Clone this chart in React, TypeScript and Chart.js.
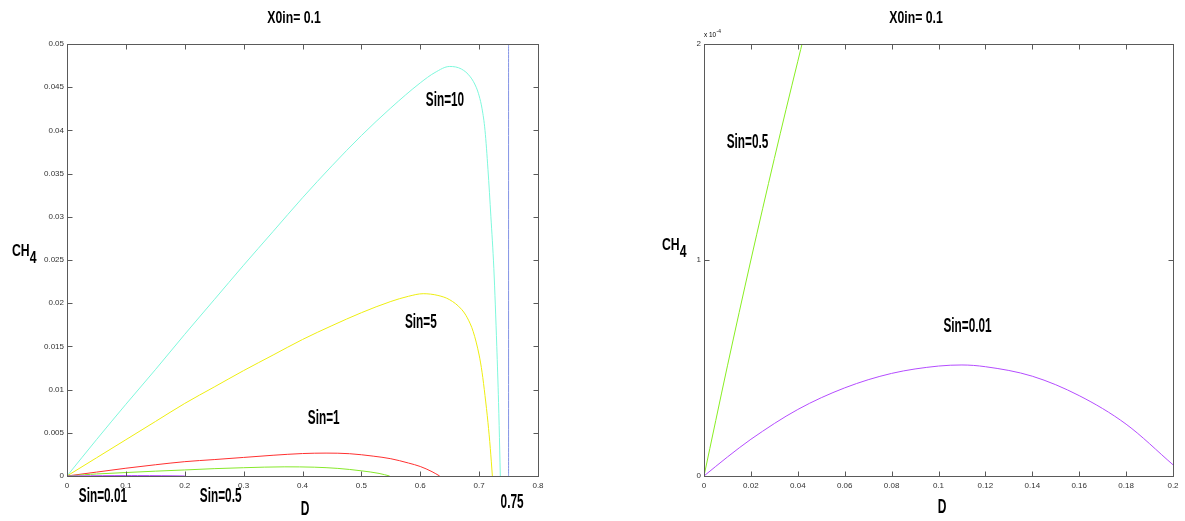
import React, { useEffect, useRef } from "react";
import { Chart, registerables } from "chart.js";

Chart.register(...registerables);

// ---------- data ----------
const titleText = "X0in= 0.1";
const xAxisLabel = "D";
const yAxisMain = "CH";
const yAxisSub = "4";

const leftXTicks = [0, 0.1, 0.2, 0.3, 0.4, 0.5, 0.6, 0.7, 0.8];
const leftYTicks = [0, 0.005, 0.01, 0.015, 0.02, 0.025, 0.03, 0.035, 0.04, 0.045, 0.05];
const rightXTicks = [0, 0.02, 0.04, 0.06, 0.08, 0.1, 0.12, 0.14, 0.16, 0.18, 0.2];
const rightYTicks = [0, 0.0001, 0.0002];
const rightYTickLabels = ["0", "1", "2"];

const sin10D = [0, 0.05, 0.1, 0.15, 0.2, 0.25, 0.3, 0.35, 0.4, 0.45, 0.5, 0.55, 0.6, 0.625, 0.65, 0.67, 0.685, 0.695, 0.7, 0.705, 0.71, 0.715, 0.72, 0.725, 0.73, 0.733, 0.735, 0.736];
const sin10CH4 = [0, 0.0042, 0.0083, 0.0123, 0.0164, 0.0204, 0.0244, 0.0283, 0.0322, 0.0359, 0.0394, 0.0426, 0.0455, 0.0467, 0.0474, 0.0471, 0.0462, 0.0450, 0.044, 0.0425, 0.04, 0.0355, 0.03, 0.024, 0.015, 0.0085, 0.003, 0];

const sin5D = [0, 0.05, 0.1, 0.15, 0.2, 0.25, 0.3, 0.35, 0.4, 0.45, 0.5, 0.55, 0.58, 0.605, 0.63, 0.65, 0.67, 0.68, 0.69, 0.7, 0.705, 0.71, 0.715, 0.719, 0.7225];
const sin5CH4 = [0, 0.0021, 0.0042, 0.0063, 0.0084, 0.0103, 0.0122, 0.014, 0.0158, 0.0174, 0.0189, 0.0202, 0.0208, 0.0211, 0.0209, 0.0204, 0.0193, 0.0183, 0.0167, 0.014, 0.012, 0.0093, 0.0062, 0.0032, 0];

const sin1D = [0, 0.05, 0.1, 0.15, 0.2, 0.25, 0.3, 0.35, 0.4, 0.44, 0.48, 0.52, 0.55, 0.58, 0.6, 0.62, 0.633];
const sin1CH4 = [0, 0.00045, 0.0009, 0.0013, 0.00166, 0.0019, 0.00215, 0.0024, 0.0026, 0.00265, 0.00258, 0.0023, 0.002, 0.0015, 0.0011, 0.0005, 0];

const sin05D = [0, 0.01, 0.02, 0.03, 0.04, 0.05, 0.1, 0.15, 0.2, 0.25, 0.3, 0.37, 0.42, 0.46, 0.5, 0.53, 0.548];
const sin05CH4 = [0, 0.000051, 0.0001, 0.000147, 0.000192, 0.000235, 0.0004, 0.00056, 0.0007, 0.00085, 0.00096, 0.00106, 0.00102, 0.00088, 0.0006, 0.0003, 0];

const sin001D = [0, 0.01, 0.02, 0.04, 0.06, 0.08, 0.1, 0.11, 0.12, 0.14, 0.16, 0.18, 0.2];
const sin001CH4 = [0, 0.0000088, 0.000017, 0.0000308, 0.0000408, 0.0000475, 0.0000509, 0.0000514, 0.0000506, 0.0000462, 0.0000372, 0.000024, 0.0000052];

const markerD = [0.75, 0.75];
const markerCH4 = [0, 0.05];

// annotation labels (data coordinates)
const leftNotes = [
  { text: "Sin=10", d: 0.642, v: 0.0435 },
  { text: "Sin=5", d: 0.601, v: 0.0178 },
  { text: "Sin=1", d: 0.436, v: 0.0066 },
  { text: "Sin=0.01", d: 0.061, v: -0.0024 },
  { text: "Sin=0.5", d: 0.261, v: -0.0024 },
  { text: "0.75", d: 0.756, v: -0.0031 },
];
const rightNotes = [
  { text: "Sin=0.5", d: 0.01855, v: 0.0001542 },
  { text: "Sin=0.01", d: 0.1124, v: 0.0000694 },
];

// ---------- helpers ----------
const FONT = '"Liberation Sans", Arial, sans-serif';

function pts(xs: number[], ys: number[]) {
  return xs.map((x, i) => ({ x, y: ys[i] }));
}

function fmt(v: number) {
  return String(parseFloat(Number(v).toFixed(6)));
}

function drawTxt(
  ctx: CanvasRenderingContext2D,
  text: string,
  x: number,
  y: number,
  size: number,
  sx: number,
  align: CanvasTextAlign = "center",
  bold = true
) {
  ctx.save();
  ctx.font = `${bold ? "bold " : ""}${size}px ${FONT}`;
  ctx.fillStyle = "#000";
  ctx.textBaseline = "middle";
  ctx.textAlign = align;
  ctx.translate(x, y);
  ctx.scale(sx, 1);
  ctx.fillText(text, 0, 0);
  const w = ctx.measureText(text).width * sx;
  ctx.restore();
  return w;
}

function line(data: { x: number; y: number }[], color: string) {
  return {
    data,
    borderColor: color,
    backgroundColor: color,
    borderWidth: 1,
    pointRadius: 0,
    showLine: true,
    fill: false,
    cubicInterpolationMode: "monotone" as const,
  };
}

const framePlugin = {
  id: "frame",
  afterDatasetsDraw(chart: any) {
    const { ctx, chartArea: a, scales } = chart;
    const xs = scales.x;
    const ys = scales.y;
    const L = Math.round(a.left) + 0.5;
    const R = Math.round(a.right) + 0.5;
    const T = Math.round(a.top) + 0.5;
    const B = Math.round(a.bottom) + 0.5;
    ctx.save();
    ctx.strokeStyle = "#5a5a5a";
    ctx.lineWidth = 1;
    ctx.beginPath();
    xs.ticks.forEach((t: any) => {
      const p = Math.round(xs.getPixelForValue(t.value)) + 0.5;
      if (p <= L + 1 || p >= R - 1) return;
      ctx.moveTo(p, B);
      ctx.lineTo(p, B - 5);
      ctx.moveTo(p, T);
      ctx.lineTo(p, T + 5);
    });
    ys.ticks.forEach((t: any) => {
      const p = Math.round(ys.getPixelForValue(t.value)) + 0.5;
      if (p <= T + 1 || p >= B - 1) return;
      ctx.moveTo(L, p);
      ctx.lineTo(L + 5, p);
      ctx.moveTo(R, p);
      ctx.lineTo(R - 5, p);
    });
    ctx.stroke();
    ctx.strokeRect(L, T, R - L, B - T);
    ctx.restore();
  },
};

function makeTextPlugin(cfg: {
  titleX: number;
  chX: number;
  chY: number;
  dX: number;
  dY: number;
  notes: { text: string; d: number; v: number }[];
  exponent?: boolean;
}) {
  return {
    id: "texts",
    afterDraw(chart: any) {
      const { ctx, scales, chartArea } = chart;
      drawTxt(ctx, titleText, cfg.titleX, 18, 17, 0.72);
      const w = drawTxt(ctx, yAxisMain, cfg.chX, cfg.chY, 17, 0.72, "left");
      drawTxt(ctx, yAxisSub, cfg.chX + w, cfg.chY + 7, 17, 0.72, "left");
      drawTxt(ctx, xAxisLabel, cfg.dX, cfg.dY, 20, 0.6);
      cfg.notes.forEach((n) => {
        drawTxt(ctx, n.text, scales.x.getPixelForValue(n.d), scales.y.getPixelForValue(n.v), 20, 0.59);
      });
      if (cfg.exponent) {
        const x0 = chartArea.left;
        const ww = drawTxt(ctx, "x 10", x0, chartArea.top - 9, 8, 0.8, "left", false);
        drawTxt(ctx, "-4", x0 + ww + 0.5, chartArea.top - 13, 6, 0.8, "left", false);
      }
    },
  };
}

function axes(
  xmin: number,
  xmax: number,
  xt: number[],
  ymin: number,
  ymax: number,
  yt: number[],
  yWidth: number,
  yFmt: (v: number) => string = fmt
) {
  const tickFont = { family: FONT, size: 8 };
  return {
    x: {
      type: "linear" as const,
      min: xmin,
      max: xmax,
      afterBuildTicks: (s: any) => {
        s.ticks = xt.map((value) => ({ value }));
      },
      afterFit: (s: any) => {
        s.height = 45;
      },
      ticks: { font: tickFont, color: "#333", padding: 5, autoSkip: false, maxRotation: 0, callback: (v: any) => fmt(Number(v)) },
      grid: { display: false, drawTicks: false },
      border: { display: false },
    },
    y: {
      type: "linear" as const,
      min: ymin,
      max: ymax,
      afterBuildTicks: (s: any) => {
        s.ticks = yt.map((value) => ({ value }));
      },
      afterFit: (s: any) => {
        s.width = yWidth;
      },
      ticks: {
        font: tickFont,
        color: "#333",
        padding: 3,
        autoSkip: false,
        callback: (v: any) => yFmt(Number(v)),
      },
      grid: { display: false, drawTicks: false },
      border: { display: false },
    },
  };
}

export default function App() {
  const leftRef = useRef<HTMLCanvasElement | null>(null);
  const rightRef = useRef<HTMLCanvasElement | null>(null);

  useEffect(() => {
    const left = new Chart(leftRef.current as HTMLCanvasElement, {
      type: "scatter",
      data: {
        datasets: [
          line(pts(markerD, markerCH4), "#8494e6") as any,
          line(pts(sin001D, sin001CH4), "#b84dff"),
          line(pts(sin05D, sin05CH4), "#86e82a"),
          line(pts(sin1D, sin1CH4), "#ff3030"),
          line(pts(sin5D, sin5CH4), "#eeee10"),
          line(pts(sin10D, sin10CH4), "#7ef8dc"),
        ],
      },
      options: {
        responsive: false,
        animation: false,
        layout: { padding: { top: 44, right: 57, left: 0, bottom: 0 } },
        plugins: { legend: { display: false }, tooltip: { enabled: false } },
        scales: axes(0, 0.8, leftXTicks, 0, 0.05, leftYTicks, 67) as any,
      },
      plugins: [
        framePlugin,
        makeTextPlugin({ titleX: 294, chX: 12, chY: 251, dX: 305, dY: 509, notes: leftNotes }),
      ],
    });

    const right = new Chart(rightRef.current as HTMLCanvasElement, {
      type: "scatter",
      data: {
        datasets: [
          line(pts(sin001D, sin001CH4), "#b44cff"),
          line(pts(sin05D, sin05CH4), "#88ee22"),
        ],
      },
      options: {
        responsive: false,
        animation: false,
        layout: { padding: { top: 44, right: 12, left: 0, bottom: 0 } },
        plugins: { legend: { display: false }, tooltip: { enabled: false } },
        scales: axes(0, 0.2, rightXTicks, 0, 0.0002, rightYTicks, 109, (v) => {
          const i = rightYTicks.findIndex((t) => Math.abs(t - v) < 1e-9);
          return i >= 0 ? rightYTickLabels[i] : "";
        }) as any,
      },
      plugins: [
        framePlugin,
        makeTextPlugin({ titleX: 321, chX: 67, chY: 245, dX: 347, dY: 507, notes: rightNotes, exponent: true }),
      ],
    });

    return () => {
      left.destroy();
      right.destroy();
    };
  }, []);

  return (
    <div style={{ position: "absolute", left: 0, top: 0, width: 1185, height: 521, background: "#fff" }}>
      <canvas
        ref={leftRef}
        width={595}
        height={521}
        style={{ position: "absolute", left: 0, top: 0, width: 595, height: 521 }}
      />
      <canvas
        ref={rightRef}
        width={590}
        height={521}
        style={{ position: "absolute", left: 595, top: 0, width: 590, height: 521 }}
      />
    </div>
  );
}
